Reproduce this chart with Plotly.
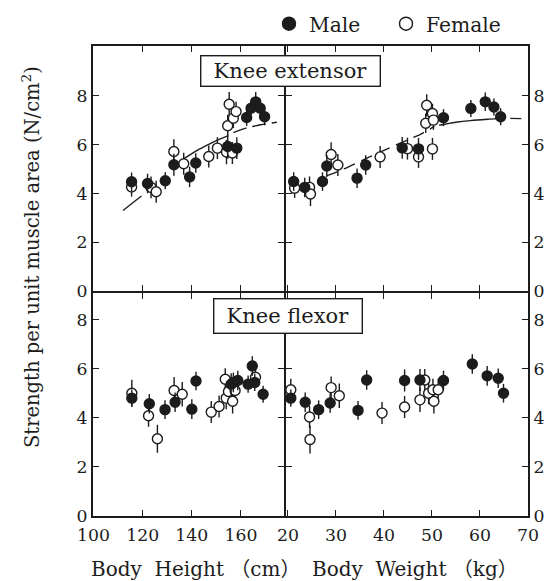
import plotly.graph_objects as go

# ---------------- data ----------------
# Knee extensor vs body height (cm)
ext_h_male_x = [115.5, 122.0, 129.2, 132.7, 139.1, 141.6, 154.6, 158.3, 162.3, 164.1, 166.0, 167.8, 169.6]
ext_h_male_y = [4.48, 4.41, 4.52, 5.18, 4.68, 5.25, 5.93, 5.86, 7.12, 7.50, 7.76, 7.50, 7.15]
ext_h_male_e = [0.38, 0.40, 0.35, 0.45, 0.42, 0.40, 0.50, 0.45, 0.35, 0.35, 0.40, 0.35, 0.35]
ext_h_fem_x = [115.5, 123.4, 125.5, 132.7, 136.7, 146.9, 150.4, 154.1, 156.5, 154.6, 155.2, 156.9, 158.0]
ext_h_fem_y = [4.27, 4.25, 4.07, 5.72, 5.22, 5.52, 5.86, 5.70, 5.66, 6.78, 7.66, 7.09, 7.36]
ext_h_fem_e = [0.40, 0.45, 0.45, 0.50, 0.45, 0.45, 0.45, 0.50, 0.45, 0.45, 0.50, 0.40, 0.40]
# Knee extensor vs body weight (kg)
ext_w_male_x = [21.2, 23.5, 27.2, 28.1, 34.4, 36.2, 43.8, 47.2, 52.4, 58.1, 61.1, 62.9, 64.3]
ext_w_male_y = [4.49, 4.25, 4.49, 5.13, 4.63, 5.17, 5.87, 5.83, 7.11, 7.49, 7.76, 7.55, 7.15]
ext_w_male_e = [0.38, 0.40, 0.38, 0.45, 0.40, 0.40, 0.45, 0.45, 0.35, 0.35, 0.38, 0.35, 0.35]
ext_w_fem_x = [21.4, 24.5, 24.7, 29.0, 30.4, 39.2, 44.9, 47.2, 48.9, 48.7, 50.1, 50.3, 50.1]
ext_w_fem_y = [4.22, 4.25, 3.98, 5.60, 5.17, 5.50, 5.84, 5.50, 7.62, 6.88, 7.28, 7.01, 5.83]
ext_w_fem_e = [0.40, 0.45, 0.50, 0.50, 0.45, 0.45, 0.45, 0.45, 0.45, 0.40, 0.40, 0.40, 0.45]
# Knee flexor vs body height (cm)
flx_h_male_x = [115.6, 122.7, 129.1, 133.2, 140.0, 141.7, 156.0, 156.9, 158.7, 162.9, 164.6, 165.6, 169.0]
flx_h_male_y = [4.81, 4.58, 4.34, 4.64, 4.36, 5.51, 5.38, 5.45, 5.53, 5.38, 6.12, 5.45, 4.97]
flx_h_male_e = [0.35, 0.40, 0.38, 0.40, 0.40, 0.38, 0.45, 0.40, 0.40, 0.35, 0.40, 0.35, 0.35]
flx_h_fem_x = [115.6, 122.4, 126.0, 132.8, 136.1, 147.9, 151.1, 153.6, 154.0, 154.9, 156.6, 157.6, 165.9]
flx_h_fem_y = [5.01, 4.09, 3.15, 5.12, 4.97, 4.24, 4.47, 5.58, 4.81, 5.08, 4.68, 5.12, 5.66]
flx_h_fem_e = [0.55, 0.45, 0.57, 0.55, 0.50, 0.45, 0.45, 0.45, 0.45, 0.45, 0.50, 0.45, 0.40]
# Knee flexor vs body weight (kg)
flx_w_male_x = [20.6, 23.6, 26.4, 28.8, 34.6, 36.4, 44.3, 47.5, 52.4, 58.4, 61.5, 63.8, 64.9]
flx_w_male_y = [4.81, 4.64, 4.34, 4.61, 4.31, 5.55, 5.53, 5.55, 5.53, 6.20, 5.72, 5.62, 5.01]
flx_w_male_e = [0.35, 0.40, 0.38, 0.40, 0.38, 0.40, 0.45, 0.45, 0.40, 0.40, 0.40, 0.40, 0.38]
flx_w_fem_x = [20.6, 24.5, 24.6, 29.0, 30.7, 39.6, 44.3, 47.5, 48.5, 49.3, 50.2, 51.3, 50.4]
flx_w_fem_y = [5.15, 4.04, 3.12, 5.24, 4.91, 4.20, 4.45, 4.74, 5.55, 5.01, 5.15, 5.15, 4.68]
flx_w_fem_e = [0.45, 0.45, 0.57, 0.45, 0.50, 0.45, 0.45, 0.50, 0.45, 0.45, 0.45, 0.45, 0.50]

# fitted curves (knee extensor), visible segments
fit_h_lo_x = [112.0, 119.5]
fit_h_lo_y = [3.30, 3.90]
fit_h_mid_x = [136.8, 141.0, 146.0, 150.0, 154.6]
fit_h_mid_y = [5.43, 5.70, 5.97, 6.17, 6.36]
fit_h_hi_x = [156.9, 162.0, 168.0, 174.6]
fit_h_hi_y = [6.50, 6.68, 6.82, 6.92]
fit_w_lo_x = [28.0, 31.0, 37.0, 43.0, 48.0, 50.5]
fit_w_lo_y = [4.72, 4.95, 5.50, 6.03, 6.47, 6.75]
fit_w_hi_x = [51.5, 55.0, 58.0, 62.0, 64.5]
fit_w_hi_y = [6.80, 6.92, 6.99, 7.05, 7.08]
fit_w_tail_x = [66.3, 68.6]
fit_w_tail_y = [7.08, 7.07]

height_ticks = [100, 120, 140, 160]
weight_ticks = [20, 30, 40, 50, 60, 70]
strength_ticks = [0, 2, 4, 6, 8]

# ---------------- figure ----------------
INK = "#1c1c1c"
FONT = "DejaVu Serif, Liberation Serif, Noto Sans CJK JP, serif"
LW = 2

fig = go.Figure()

def pts(x, y, e, xa, ya, filled):
    fig.add_trace(go.Scatter(
        x=x, y=y, xaxis=xa, yaxis=ya, mode="markers", showlegend=False,
        error_y=dict(type="data", array=e, visible=True, width=0, thickness=1.4, color=INK),
        marker=dict(size=10, symbol="circle",
                    color=INK if filled else "white",
                    line=dict(color=INK, width=1.4)),
        hoverinfo="skip"))

def line(x, y, xa, ya, dash):
    fig.add_trace(go.Scatter(
        x=x, y=y, xaxis=xa, yaxis=ya, mode="lines", showlegend=False,
        line=dict(color=INK, width=1.4, dash=dash, shape="spline"),
        hoverinfo="skip"))

# fits under the markers
line(fit_h_lo_x, fit_h_lo_y, "x3", "y3", "solid")
line(fit_h_mid_x, fit_h_mid_y, "x3", "y3", "solid")
line(fit_h_hi_x, fit_h_hi_y, "x3", "y3", "14px,6px")
line(fit_w_lo_x, fit_w_lo_y, "x4", "y4", "12px,7px")
line(fit_w_hi_x, fit_w_hi_y, "x4", "y4", "solid")
line(fit_w_tail_x, fit_w_tail_y, "x4", "y4", "solid")

pts(ext_h_fem_x, ext_h_fem_y, ext_h_fem_e, "x3", "y3", False)
pts(ext_h_male_x, ext_h_male_y, ext_h_male_e, "x3", "y3", True)
pts(ext_w_fem_x, ext_w_fem_y, ext_w_fem_e, "x4", "y4", False)
pts(ext_w_male_x, ext_w_male_y, ext_w_male_e, "x4", "y4", True)
pts(flx_h_fem_x, flx_h_fem_y, flx_h_fem_e, "x", "y", False)
pts(flx_h_male_x, flx_h_male_y, flx_h_male_e, "x", "y", True)
pts(flx_w_fem_x, flx_w_fem_y, flx_w_fem_e, "x2", "y2", False)
pts(flx_w_male_x, flx_w_male_y, flx_w_male_e, "x2", "y2", True)

# legend entries
fig.add_trace(go.Scatter(x=[None], y=[None], mode="markers", name="Male",
                         marker=dict(size=13, color=INK, line=dict(color=INK, width=1.4))))
fig.add_trace(go.Scatter(x=[None], y=[None], mode="markers", name="Female",
                         marker=dict(size=13, color="white", line=dict(color=INK, width=1.4))))

# geometry (pixels)
L, R, T, B = 93, 22, 46, 65
W, H = 550, 581
pw, ph = W - L - R, H - T - B
XDIV, YDIV = 285, 292

def px_x(p):
    return (p - L) / pw

def px_y(p):
    return (H - B - p) / ph

DXL = px_x(XDIV - LW / 2)
DXR = px_x(XDIV + LW / 2)
DYB = px_y(YDIV + LW / 2)
DYT = px_y(YDIV - LW / 2)

def xax(dom, rng, ticks, anchor, labels):
    return dict(domain=dom, range=rng, anchor=anchor, tickvals=ticks,
                showticklabels=labels, ticks="inside", ticklen=6, tickwidth=1.4,
                tickcolor=INK, showline=True, linecolor=INK, linewidth=LW,
                mirror="ticks", showgrid=False, zeroline=False, ticklabelstandoff=2,
                tickfont=dict(family=FONT, size=17.3, color=INK))

def yax(dom, rng, anchor, side):
    return dict(domain=dom, range=rng, anchor=anchor, tickvals=strength_ticks,
                side=side, ticks="inside", ticklen=6, tickwidth=1.4,
                tickcolor=INK, showline=True, linecolor=INK, linewidth=LW,
                mirror="ticks", showgrid=False, zeroline=False,
                tickfont=dict(family=FONT, size=17.3, color=INK))

fig.update_layout(
    width=W, height=H, margin=dict(l=L, r=R, t=T, b=B, autoexpand=False),
    paper_bgcolor="white", plot_bgcolor="white",
    font=dict(family=FONT, size=18, color=INK),
    xaxis=xax([0, DXL], [99.8, 177.5], height_ticks, "y", True),
    xaxis2=xax([DXR, 1], [19.6, 70.0], weight_ticks, "y2", True),
    xaxis3=xax([0, DXL], [99.8, 177.5], height_ticks, "y3", False),
    xaxis4=xax([DXR, 1], [19.6, 70.0], weight_ticks, "y4", False),
    yaxis=yax([0, DYB], [0, 9.1], "x", "left"),
    yaxis2=yax([0, DYB], [0, 9.1], "x2", "right"),
    yaxis3=yax([DYT, 1], [0, 10.05], "x3", "left"),
    yaxis4=yax([DYT, 1], [0, 10.05], "x4", "right"),
    legend=dict(orientation="h", x=px_x(269), y=px_y(24), entrywidth=72,
                xanchor="left", yanchor="middle",
                font=dict(family=FONT, size=20.3, color=INK),
                bgcolor="rgba(0,0,0,0)", itemclick=False, itemdoubleclick=False),
)

boxes = [
    dict(text="Knee extensor", x=px_x(290), y=px_y(70.5), width=176, height=27),
    dict(text="Knee flexor", x=px_x(287.5), y=px_y(315.5), width=145, height=31),
]
for a in boxes:
    fig.add_annotation(xref="paper", yref="paper", x=a["x"], y=a["y"], text=a["text"],
                       showarrow=False, xanchor="center", yanchor="middle",
                       width=a["width"], height=a["height"],
                       font=dict(family=FONT, size=21, color=INK),
                       bgcolor="white", bordercolor=INK, borderwidth=1.4, borderpad=1)

fig.add_annotation(xref="paper", yref="paper", x=px_x(195), y=px_y(569),
                   text="Body  Height （cm）", showarrow=False, xanchor="center", yanchor="middle",
                   font=dict(family=FONT, size=20, color=INK))
fig.add_annotation(xref="paper", yref="paper", x=px_x(415), y=px_y(569),
                   text="Body  Weight （kg）", showarrow=False, xanchor="center", yanchor="middle",
                   font=dict(family=FONT, size=20, color=INK))
fig.add_annotation(xref="paper", yref="paper", x=px_x(31), y=px_y(257),
                   text="Strength per unit muscle area (N/cm<sup>2</sup>)", textangle=-90,
                   showarrow=False, xanchor="center", yanchor="middle",
                   font=dict(family=FONT, size=19.5, color=INK))

fig.write_html("out.html")
